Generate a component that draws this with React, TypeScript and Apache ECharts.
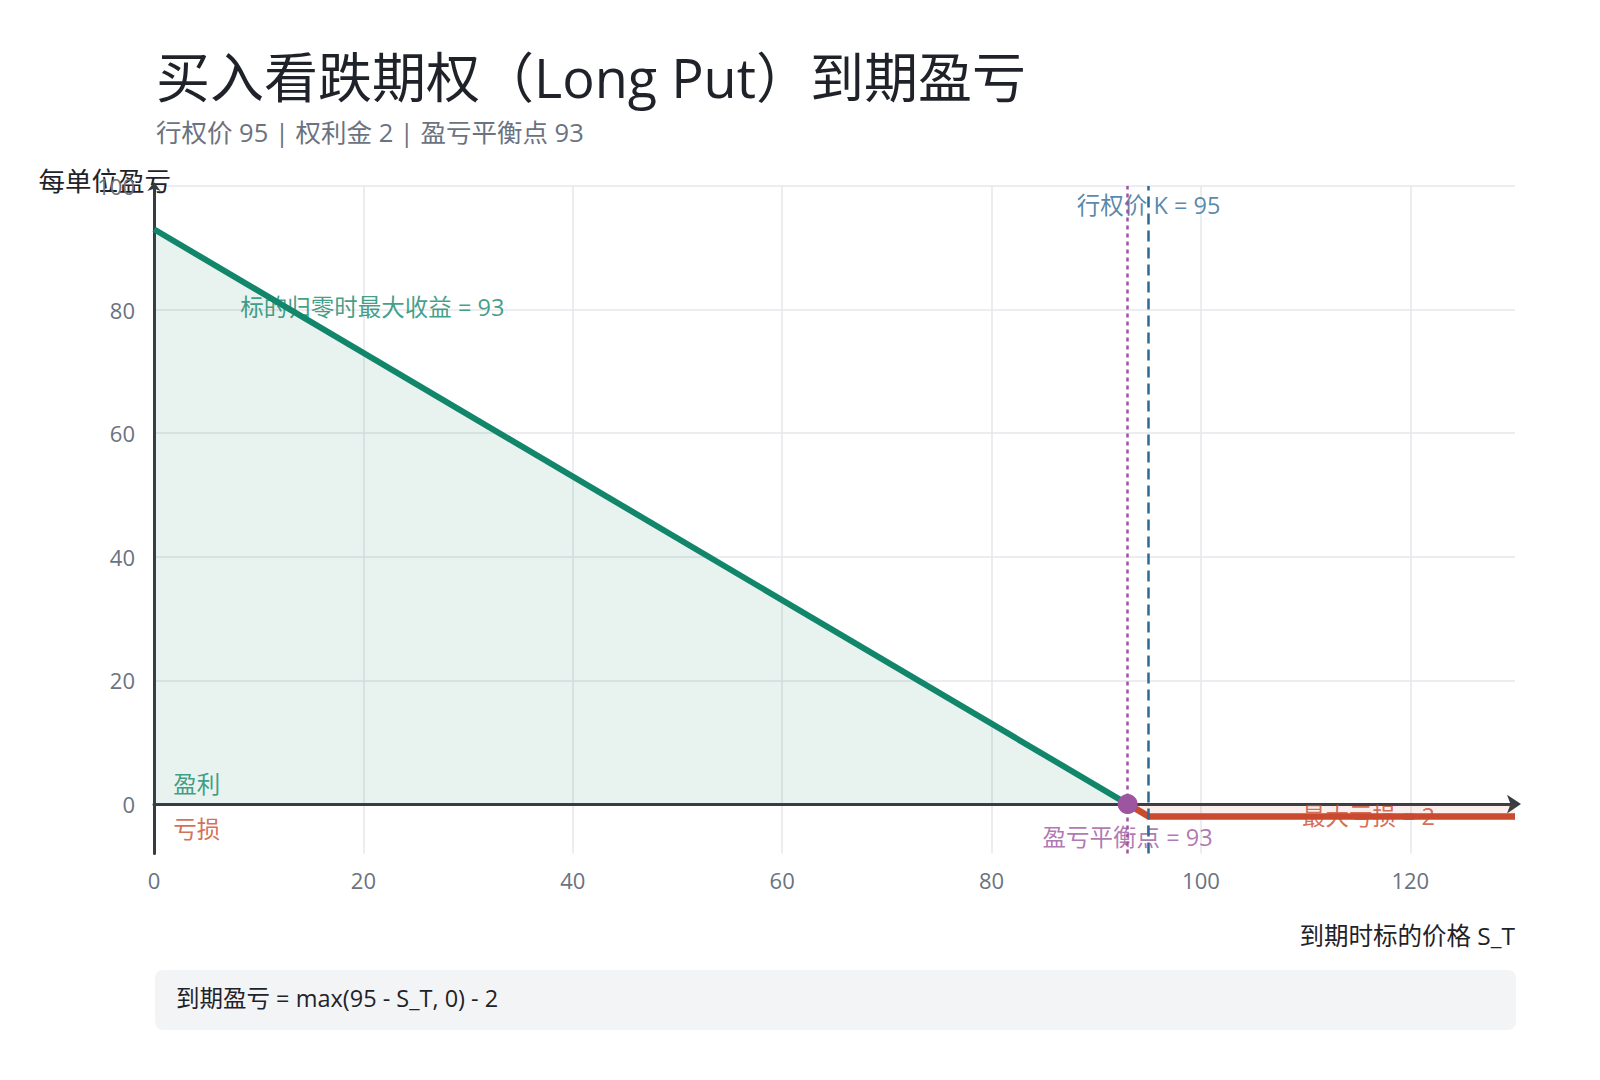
import React, { useEffect, useRef } from "react";
import * as echarts from "echarts";

// ---- data ----
const STRIKE = 95;
const PREMIUM = 2;
const BREAKEVEN = 93;
const X_MIN = 0;
const X_MAX = 130;
const Y_MIN = -8;
const Y_MAX = 100;
const X_TICKS = [0, 20, 40, 60, 80, 100, 120];
const Y_TICKS = [0, 20, 40, 60, 80, 100];
const PROFIT_PATH = [
  [0, 93],
  [93, 0],
];
const LOSS_PATH = [
  [93, 0],
  [95, -2],
  [130, -2],
];
const BREAKEVEN_POINT = [[93, 0]];

const TITLE = "买入看跌期权（Long Put）到期盈亏";
const SUBTITLE = `行权价 ${STRIKE} | 权利金 ${PREMIUM} | 盈亏平衡点 ${BREAKEVEN}`;
const Y_NAME = "每单位盈亏";
const X_NAME = "到期时标的价格 S_T";
const FORMULA = `到期盈亏 = max(${STRIKE} - S_T, 0) - ${PREMIUM}`;

const NOTE_TEXTS = [
  `行权价 K = ${STRIKE}`,
  `标的归零时最大收益 = ${BREAKEVEN}`,
  "盈利",
  "亏损",
  `盈亏平衡点 = ${BREAKEVEN}`,
  `最大亏损 = ${PREMIUM}`,
];
const NOTE_ANCHORS = [
  [95, 97.0],
  [8.2, 80.5],
  [1.8, 3.3],
  [1.8, -4.1],
  [93, -5.4],
  [116, -1.9],
];

// ---- styles ----
const FONT = '"Open Sans", "Noto Sans CJK SC", "Noto Sans", sans-serif';
const GREEN = "#12866a";
const RED = "#c94a2e";
const PURPLE = "#9c559e";
const BLUE = "#2d6a94";
const AXIS = "#363c44";
const GRID = "#e4e7eb";
const LABEL = "#6b7280";
const DARK = "#1f2329";
const NOTE_COLORS = [BLUE, GREEN, GREEN, RED, PURPLE, RED];
const NOTE_LEFT = [false, true, true, true, false, false];

export default function App() {
  const ref = useRef<HTMLDivElement>(null);

  useEffect(() => {
    if (!ref.current) return;
    const chart = echarts.init(ref.current, undefined, { renderer: "svg" });

    const noteSeries = NOTE_TEXTS.map((t, i) => ({
      type: "scatter",
      z: 2,
      silent: true,
      symbolSize: 1,
      itemStyle: { color: "rgba(0,0,0,0)" },
      data: [NOTE_ANCHORS[i]],
      label: {
        show: true,
        formatter: t,
        position: NOTE_LEFT[i] ? "right" : "inside",
        distance: 0,
        color: NOTE_COLORS[i],
        fontSize: 23.5,
        fontFamily: FONT,
        textBorderWidth: 0,
      },
    }));

    const option: any = {
      animation: false,
      textStyle: { fontFamily: FONT },
      title: {
        text: TITLE,
        subtext: SUBTITLE,
        left: 156,
        top: 46,
        padding: 0,
        itemGap: 9,
        textStyle: { fontSize: 54, fontWeight: "normal", color: DARK, lineHeight: 62, fontFamily: FONT },
        subtextStyle: { fontSize: 25.5, color: LABEL, lineHeight: 30, fontFamily: FONT },
      },
      grid: { left: 154, right: 85, top: 186, bottom: 226.5, containLabel: false, outerBoundsMode: "none" },
      xAxis: [
        {
          type: "value",
          min: X_MIN,
          max: X_MAX,
          position: "bottom",
          name: X_NAME,
          nameLocation: "end",
          nameGap: 0,
          nameMoveOverlap: false,
          nameTextStyle: {
            fontSize: 24.5,
            color: DARK,
            align: "right",
            verticalAlign: "top",
            lineHeight: 26,
            padding: [69, 0, 0, 0],
          },
          axisLine: { show: false, onZero: false },
          axisTick: { show: false, customValues: X_TICKS },
          axisLabel: { customValues: X_TICKS, fontSize: 22, color: LABEL, margin: 15 },
          splitLine: { show: true, lineStyle: { color: GRID, width: 1.5 } },
        },
        {
          type: "value",
          min: X_MIN,
          max: X_MAX,
          position: "top",
          axisLine: {
            show: true,
            onZero: true,
            symbol: ["none", "arrow"],
            symbolSize: [14, 14],
            symbolOffset: [0, 6],
            lineStyle: { color: AXIS, width: 3 },
          },
          axisTick: { show: false },
          axisLabel: { show: false },
          splitLine: { show: false },
        },
      ],
      yAxis: {
        type: "value",
        min: Y_MIN,
        max: Y_MAX,
        name: Y_NAME,
        nameLocation: "end",
        nameGap: 5,
        nameMoveOverlap: false,
        nameTextStyle: {
          fontSize: 26.5,
          color: DARK,
          align: "right",
          verticalAlign: "middle",
          padding: [0, -17, 0, 0],
        },
        axisLine: {
          show: true,
          onZero: false,
          symbol: ["none", "arrow"],
          symbolSize: [10, 9],
          symbolOffset: [0, 4],
          lineStyle: { color: AXIS, width: 3 },
        },
        axisTick: { show: false, customValues: Y_TICKS },
        axisLabel: { customValues: Y_TICKS, fontSize: 22, color: LABEL, margin: 19 },
        splitLine: { show: true, lineStyle: { color: GRID, width: 1.5 } },
      },
      series: [
        {
          type: "line",
          z: 1,
          silent: true,
          symbol: "none",
          data: PROFIT_PATH,
          lineStyle: { width: 0 },
          areaStyle: { color: "rgba(18,134,106,0.14)" },
        },
        {
          type: "line",
          z: 1,
          silent: true,
          symbol: "none",
          data: LOSS_PATH,
          lineStyle: { width: 0 },
          areaStyle: { color: "rgba(201,74,46,0.13)" },
        },
        ...noteSeries,
        {
          type: "line",
          z: 3,
          silent: true,
          data: [],
          markLine: {
            silent: true,
            symbol: "none",
            label: { show: false },
            data: [
              { xAxis: BREAKEVEN, lineStyle: { color: PURPLE, width: 2.5, type: [4, 4] } },
              { xAxis: STRIKE, lineStyle: { color: BLUE, width: 2.5, type: [11, 6] } },
            ],
          },
        },
        {
          type: "line",
          z: 4,
          silent: true,
          symbol: "none",
          data: PROFIT_PATH,
          lineStyle: { color: GREEN, width: 6, join: "round" },
        },
        {
          type: "line",
          z: 4,
          silent: true,
          symbol: "none",
          data: LOSS_PATH,
          lineStyle: { color: RED, width: 6.5, join: "round" },
        },
        {
          type: "scatter",
          z: 6,
          silent: true,
          symbol: "circle",
          symbolSize: 20,
          itemStyle: { color: PURPLE, opacity: 1 },
          data: BREAKEVEN_POINT,
        },
      ],
      graphic: [
        {
          type: "rect",
          silent: true,
          shape: { x: 155, y: 970, width: 1361, height: 60, r: 8 },
          style: { fill: "#f3f4f6" },
        },
        {
          type: "text",
          silent: true,
          x: 176,
          y: 998,
          style: {
            text: FORMULA,
            fontSize: 23.5,
            fontFamily: FONT,
            fill: DARK,
            verticalAlign: "middle",
            align: "left",
          },
        },
      ],
    };

    chart.setOption(option);
    return () => chart.dispose();
  }, []);

  return (
    <div
      ref={ref}
      style={{ position: "fixed", left: 0, top: 0, width: 1600, height: 1080, background: "#ffffff" }}
    />
  );
}
